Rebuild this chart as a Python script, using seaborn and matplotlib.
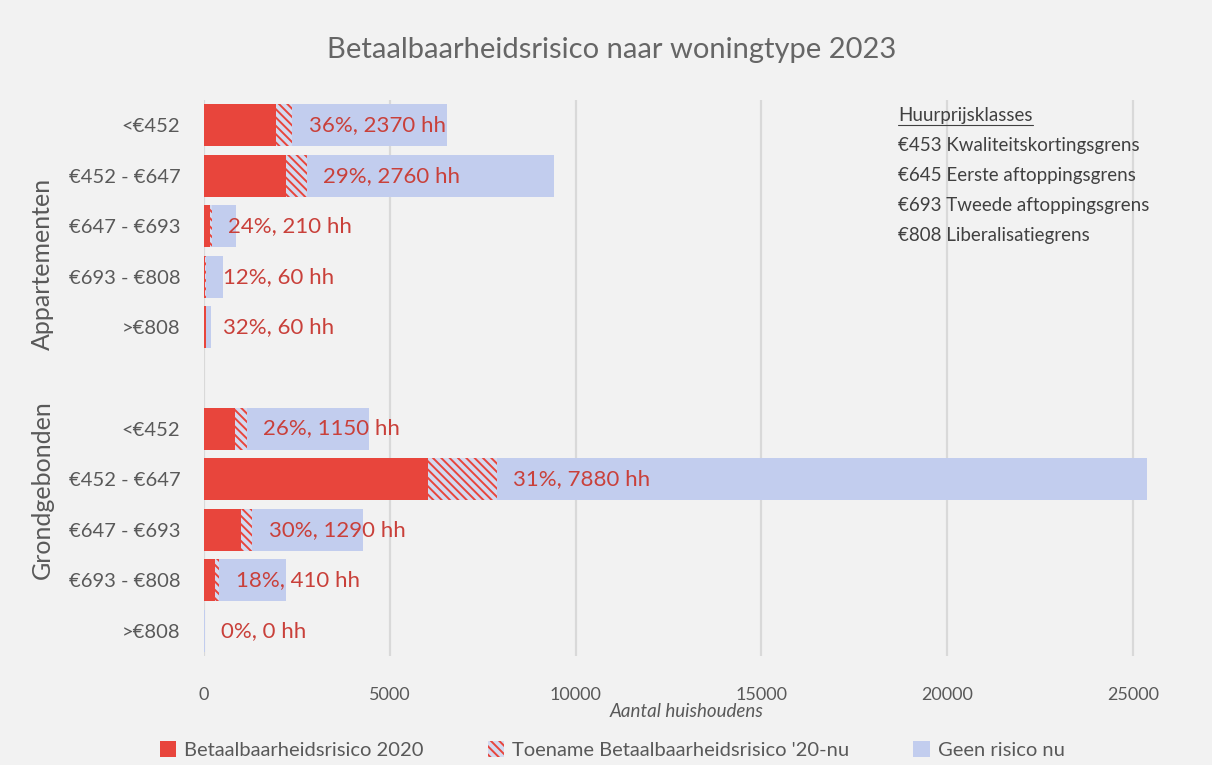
import pandas as pd
import seaborn as sns
import matplotlib.pyplot as plt
from matplotlib.patches import Patch

# prijsklassen en waarden per woningtype
klassen = ['<€452', '€452 - €647', '€647 - €693', '€693 - €808', '>€808']
app_risico_2020 = [1940, 2200, 160, 40, 45]
app_toename = [430, 560, 50, 20, 15]
app_totaal = [6540, 9420, 870, 500, 188]
app_pct = [36, 29, 24, 12, 32]
app_hh = [2370, 2760, 210, 60, 60]

grond_risico_2020 = [830, 6030, 1000, 300, 0]
grond_toename = [320, 1850, 290, 110, 0]
grond_totaal = [4430, 25380, 4280, 2220, 40]
grond_pct = [26, 31, 30, 18, 0]
grond_hh = [1150, 7880, 1290, 410, 0]

huurgrenzen = ['€453 Kwaliteitskortingsgrens', '€645 Eerste aftoppingsgrens',
               '€693 Tweede aftoppingsgrens', '€808 Liberalisatiegrens']

ROOD = '#e8453c'
BLAUW = '#c2cdee'
HATCH_BG = '#d3daf0'
GRIJS = '#595959'
BG = '#f2f2f2'
ARCERING = '\\\\\\\\'

sns.set_theme(style='white')
plt.rcParams['font.family'] = ['Lato', 'DejaVu Sans']
plt.rcParams['hatch.linewidth'] = 1.4

rows = []
for groep, r20, toe, tot, pct, hh in [('A', app_risico_2020, app_toename, app_totaal, app_pct, app_hh),
                                       ('G', grond_risico_2020, grond_toename, grond_totaal, grond_pct, grond_hh)]:
    for i, k in enumerate(klassen):
        rows.append({'key': groep + k, 'klasse': k, 'r2020': r20[i],
                     'risico': r20[i] + toe[i], 'totaal': tot[i], 'pct': pct[i], 'hh': hh[i]})
df = pd.DataFrame(rows)
volgorde = ['A' + k for k in klassen] + ['gap'] + ['G' + k for k in klassen]

fig = plt.figure(figsize=(12.12, 7.65), dpi=100, facecolor=BG)
ax = fig.add_axes([204 / 1212, 1 - 656 / 765, 966 / 1212, 556 / 765])
ax.set_facecolor(BG)

sns.barplot(data=df, y='key', x='totaal', order=volgorde, orient='h', color=BLAUW,
            saturation=1, width=0.83, linewidth=0, ax=ax)
n0 = len(ax.patches)
sns.barplot(data=df, y='key', x='risico', order=volgorde, orient='h', color=HATCH_BG,
            saturation=1, width=0.83, linewidth=0, ax=ax)
for p in ax.patches[n0:]:
    p.set_hatch(ARCERING)
    p.set_edgecolor(ROOD)
    p.set_linewidth(0)
sns.barplot(data=df, y='key', x='r2020', order=volgorde, orient='h', color=ROOD,
            saturation=1, width=0.83, linewidth=0, ax=ax)

for _, r in df.iterrows():
    ax.annotate(f"{r['pct']}%, {r['hh']} hh", xy=(r['risico'], volgorde.index(r['key'])),
                xytext=(12, 0), textcoords='offset points', va='center', ha='left',
                fontsize=16, color='#c9403a')

ax.set_xlim(0, 26000)
ax.set_ylim(10.5, -0.5)
ax.set_xticks([0, 5000, 10000, 15000, 20000, 25000])
ax.set_yticks(range(len(volgorde)))
ax.set_yticklabels([k[1:] if k != 'gap' else '' for k in volgorde])
ax.tick_params(axis='y', length=0, pad=17, labelsize=14.5, labelcolor=GRIJS)
ax.tick_params(axis='x', length=0, pad=22, labelsize=13, labelcolor=GRIJS)
ax.xaxis.grid(True, color='#d9d9d9', linewidth=1.6)
ax.set_axisbelow(True)
for s in ax.spines.values():
    s.set_visible(False)
ax.set_ylabel('')
ax.set_xlabel('Aantal huishoudens', fontsize=13.5, style='italic', color=GRIJS, labelpad=0)

fig.text(0.505, 1 - 50 / 765, 'Betaalbaarheidsrisico naar woningtype 2023', ha='center', va='center',
         fontsize=21, color='#666666')
fig.text(42 / 1212, 1 - 264 / 765, 'Appartementen', rotation=90, ha='center', va='center',
         fontsize=18, color=GRIJS)
fig.text(42 / 1212, 1 - 490 / 765, 'Grondgebonden', rotation=90, ha='center', va='center',
         fontsize=18, color=GRIJS)

fig.text(898 / 1212, 1 - 115 / 765, 'Huurprijsklasses', ha='left', va='center', fontsize=13.5,
         color='#404040')
fig.add_artist(plt.Line2D([898 / 1212, 1033 / 1212], [1 - 125 / 765] * 2, color='#404040', lw=0.8))
for i, t in enumerate(huurgrenzen):
    fig.text(898 / 1212, 1 - (145 + 30.3 * i) / 765, t, ha='left', va='center', fontsize=13.5,
             color='#404040')

handles = [Patch(facecolor=ROOD, edgecolor=ROOD, linewidth=0),
           Patch(facecolor=HATCH_BG, edgecolor=ROOD, hatch=ARCERING, linewidth=0),
           Patch(facecolor=BLAUW, edgecolor=BLAUW, linewidth=0)]
fig.legend(handles, ['Betaalbaarheidsrisico 2020', "Toename Betaalbaarheidsrisico '20-nu", 'Geen risico nu'],
           loc='center', bbox_to_anchor=(0.505, 1 - 750 / 765), ncol=3, frameon=False,
           handlelength=0.8, handleheight=0.8, handletextpad=0.4, columnspacing=3.2,
           fontsize=14.5, labelcolor=GRIJS)

fig.savefig('out.png', dpi=100, facecolor=BG)
